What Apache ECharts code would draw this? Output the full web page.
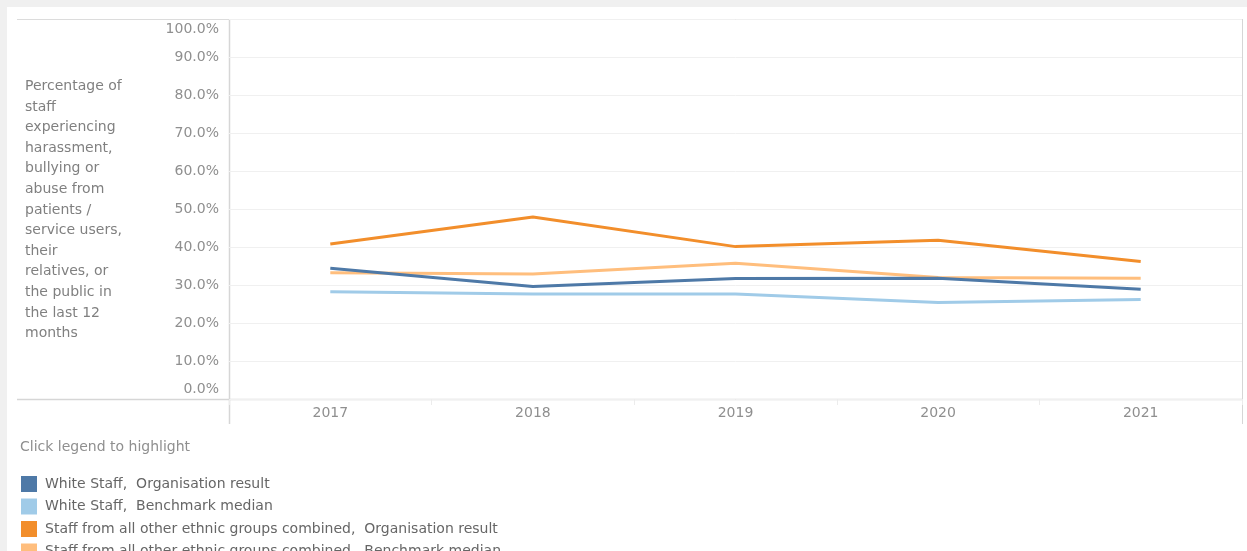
<!DOCTYPE html>
<html><head><meta charset="utf-8">
<script src="https://cdn.jsdelivr.net/npm/echarts@6/dist/echarts.min.js"></script>
<style>html,body{margin:0;padding:0;background:#fff}#c{width:1247px;height:551px}</style>
</head><body><div id="c"></div>
<script>
const years = ['2017','2018','2019','2020','2021'];
const whiteOrg = [34.4, 29.6, 31.7, 31.8, 28.9];
const whiteBench = [28.2, 27.6, 27.6, 25.4, 26.2];
const bmeOrg = [40.8, 47.9, 40.1, 41.8, 36.2];
const bmeBench = [33.2, 32.9, 35.7, 32.0, 31.8];
const seriesNames = [
  'White Staff,  Organisation result',
  'White Staff,  Benchmark median',
  'Staff from all other ethnic groups combined,  Organisation result',
  'Staff from all other ethnic groups combined,  Benchmark median'
];
const colors = ['#4e79a7', '#a0cbe8', '#f28e2b', '#ffbe7d'];
const yTitle = 'Percentage of\nstaff\nexperiencing\nharassment,\nbullying or\nabuse from\npatients /\nservice users,\ntheir\nrelatives, or\nthe public in\nthe last 12\nmonths';

const font = '"DejaVu Sans", sans-serif';
const fs = 14;
const chart = echarts.init(document.getElementById('c'));
const dataSets = [whiteOrg, whiteBench, bmeOrg, bmeBench];
const zs = [4, 2, 5, 3];
chart.setOption({
  backgroundColor: '#ffffff',
  animation: false,
  textStyle: {fontFamily: font},
  grid: {left: 229, right: 5, top: 19, bottom: 152},
  xAxis: {
    type: 'category', data: years, boundaryGap: true,
    axisLine: {show: false},
    axisTick: {show: true, length: 6, lineStyle: {color: '#ececec'}},
    axisLabel: {color: '#8f8f8f', fontSize: fs, margin: 7, fontFamily: font}
  },
  yAxis: {
    type: 'value', min: 0, max: 100, interval: 10,
    axisLine: {show: false}, axisTick: {show: false},
    splitLine: {lineStyle: {color: '#f0f0f0', width: 1}},
    axisLabel: {
      color: '#8f8f8f', fontSize: fs, margin: 10, fontFamily: font,
      formatter: function (v) {
        const s = v.toFixed(1) + '%';
        if (v === 100) return '{t|' + s + '}';
        if (v === 0) return '{b|' + s + '}';
        return s;
      },
      rich: {
        t: {color: '#8f8f8f', fontSize: fs, fontFamily: font, padding: [20, 0, 0, 0]},
        b: {color: '#8f8f8f', fontSize: fs, fontFamily: font, padding: [0, 0, 20, 0]}
      }
    }
  },
  legend: seriesNames.map((n, i) => ({
    orient: 'vertical', left: 16, top: 471 + i * 22.5,
    itemWidth: 16, itemHeight: 16, itemGap: 0, icon: 'rect',
    selectedMode: false,
    textStyle: {color: '#666', fontSize: fs, fontFamily: font, padding: [0, 0, 0, 3]},
    data: [n]
  })),
  series: seriesNames.map((n, i) => ({
    name: n, type: 'line', data: dataSets[i], symbol: 'none', z: zs[i],
    lineStyle: {color: colors[i], width: 3}, itemStyle: {color: colors[i]}
  })),
  graphic: [
    {type: 'rect', shape: {x: 0, y: 0, width: 1247, height: 7}, style: {fill: '#f0f0f0'}, silent: true},
    {type: 'rect', shape: {x: 0, y: 0, width: 7, height: 551}, style: {fill: '#f0f0f0'}, silent: true},
    {type: 'line', shape: {x1: 17, y1: 19.5, x2: 1242, y2: 19.5}, style: {stroke: '#dcdcdc', lineWidth: 1}, silent: true},
    {type: 'line', shape: {x1: 17, y1: 399.5, x2: 1242, y2: 399.5}, style: {stroke: '#d6d6d6', lineWidth: 1.5}, silent: true},
    {type: 'line', shape: {x1: 229.5, y1: 19, x2: 229.5, y2: 424}, style: {stroke: '#d6d6d6', lineWidth: 1.5}, silent: true},
    {type: 'line', shape: {x1: 1242.5, y1: 19, x2: 1242.5, y2: 424}, style: {stroke: '#d6d6d6', lineWidth: 1}, silent: true},
    {type: 'text', left: 25, top: 76, silent: true,
      style: {text: yTitle, fill: '#808080', font: fs + 'px ' + font, lineHeight: 20.6}},
    {type: 'text', left: 20, top: 440, silent: true,
      style: {text: 'Click legend to highlight', fill: '#8f8f8f', font: fs + 'px ' + font}}
  ]
});
</script></body></html>
